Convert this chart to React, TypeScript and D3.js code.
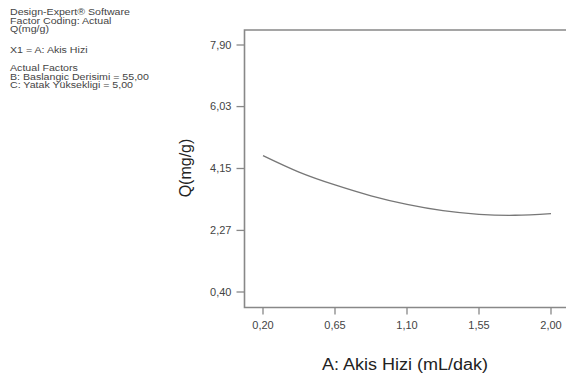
import React from "react";
import * as d3 from "d3";

const xValues = [0.2, 0.425, 0.65, 0.875, 1.1, 1.325, 1.55, 1.775, 2.0];
const qValues = [4.54, 4.04, 3.65, 3.32, 3.06, 2.87, 2.76, 2.73, 2.78];
const xTicks = [0.2, 0.65, 1.1, 1.55, 2.0];
const yTicks = [0.4, 2.27, 4.15, 6.03, 7.9];
const infoGroups = [
  ["Design-Expert® Software", "Factor Coding: Actual", "Q(mg/g)"],
  ["X1 = A: Akis Hizi"],
  ["Actual Factors", "B: Baslangic Derisimi = 55,00", "C: Yatak Yüksekligi = 5,00"],
];
const xTitle = "A: Akis Hizi (mL/dak)";
const yTitle = "Q(mg/g)";

const fmt = (v: number) => v.toFixed(2).replace(".", ",");

export default function App() {
  const W = 566, H = 375;
  const x = d3.scaleLinear().domain([0.2, 2.0]).range([263, 551]);
  const y = d3.scaleLinear().domain([0.4, 7.9]).range([292, 45]);
  const pad = 18.5;
  const frameL = x(0.2) - pad;
  const frameR = x(2.0) + pad;
  const frameT = y(7.9) - 15;
  const frameB = y(0.4) + 15.5;
  const line = d3
    .line<number>()
    .x((_, i) => x(xValues[i]))
    .y((d) => y(d))
    .curve(d3.curveNatural);
  const font = "Arial, 'Liberation Sans', sans-serif";
  const groupTops = [15, 53, 71];
  return (
    <svg
      width={W}
      height={H}
      style={{ position: "absolute", left: 0, top: 0, background: "#fff" }}
      fontFamily={font}
    >
      <rect x={0} y={0} width={W} height={H} fill="#fff" />
      {infoGroups.map((g, gi) =>
        g.map((t, i) => (
          <text
            key={gi + "-" + i}
            transform={`translate(10,${groupTops[gi] + i * 8.5}) scale(1.25,1)`}
            fontSize={8.5}
            fill="#444"
          >
            {t}
          </text>
        ))
      )}
      <path
        d={`M${frameR},${frameT}H${frameL}V${frameB}H${frameR}`}
        fill="none"
        stroke="#888"
        strokeWidth={1.6}
      />
      {yTicks.map((t) => (
        <g key={t}>
          <line x1={frameL - 8} x2={frameL} y1={y(t)} y2={y(t)} stroke="#888" strokeWidth={1.3} />
          <text x={frameL - 13} y={y(t)} dy="0.35em" textAnchor="end" fontSize={11} fill="#444">
            {fmt(t)}
          </text>
        </g>
      ))}
      {xTicks.map((t) => (
        <g key={t}>
          <line x1={x(t)} x2={x(t)} y1={frameB} y2={frameB + 7} stroke="#888" strokeWidth={1.3} />
          <text x={x(t)} y={frameB + 21} textAnchor="middle" fontSize={11} fill="#444">
            {fmt(t)}
          </text>
        </g>
      ))}
      <path d={line(qValues) || ""} fill="none" stroke="#777" strokeWidth={1.3} />
      <text
        x={405}
        y={370}
        textAnchor="middle"
        fontSize={16}
        fill="#222"
        textLength={166}
        lengthAdjust="spacingAndGlyphs"
      >
        {xTitle}
      </text>
      <text
        transform={`translate(191,168) rotate(-90)`}
        textAnchor="middle"
        fontSize={16}
        fill="#222"
      >
        {yTitle}
      </text>
    </svg>
  );
}
